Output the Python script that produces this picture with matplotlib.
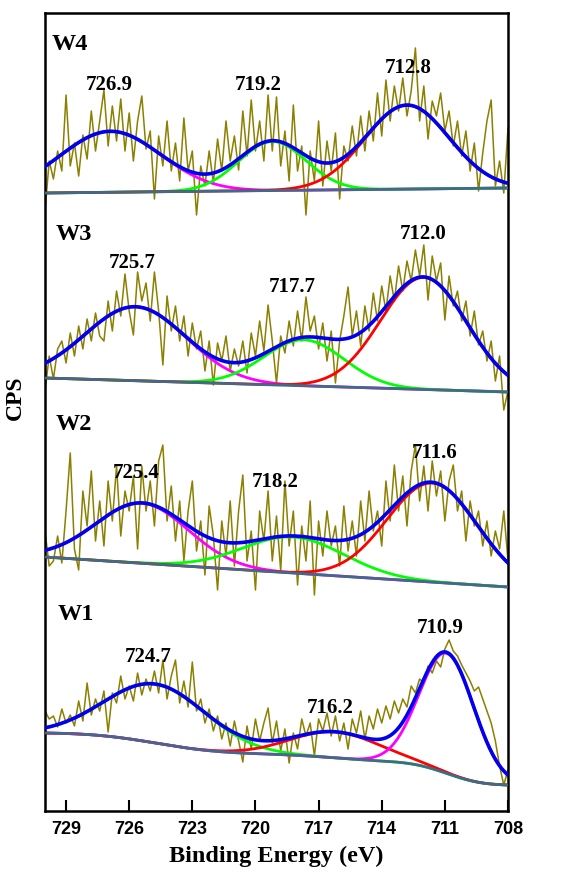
import numpy as np
import matplotlib.pyplot as plt

# raw scans, 730 -> 708 eV in 0.2 eV steps (counts offset per sample)
energy = np.linspace(730, 708, 111)

w4_raw = [600, 650, 632, 660, 640, 716, 645, 668, 635, 676,
          652, 700, 660, 690, 721, 665, 705, 670, 712, 660,
          698, 650, 690, 715, 662, 680, 612, 675, 645, 690,
          640, 668, 630, 693, 640, 660, 596, 645, 625, 660,
          628, 672, 640, 690, 650, 675, 641, 700, 655, 711,
          660, 690, 650, 716, 660, 714, 645, 680, 630, 706,
          640, 665, 596, 660, 630, 690, 625, 670, 640, 678,
          612, 665, 650, 685, 655, 695, 660, 700, 670, 718,
          675, 731, 690, 725, 700, 733, 695, 720, 763, 690,
          725, 672, 710, 695, 718, 680, 700, 665, 690, 655,
          680, 640, 668, 620, 658, 690, 711, 625, 650, 618,
          683]
w3_raw = [420, 455, 432, 462, 470, 448, 478, 455, 485, 462,
          492, 470, 498, 475, 470, 510, 480, 520, 495, 537,
          500, 476, 539, 510, 528, 490, 539, 500, 446, 515,
          480, 505, 470, 495, 455, 488, 462, 480, 440, 470,
          426, 468, 450, 475, 440, 462, 445, 470, 438, 478,
          455, 490, 460, 506, 470, 428, 475, 458, 490, 465,
          500, 470, 514, 480, 495, 462, 488, 450, 480, 428,
          470, 495, 524, 475, 500, 465, 505, 480, 518, 490,
          525, 500, 535, 510, 545, 520, 550, 530, 561, 535,
          566, 511, 555, 530, 548, 491, 535, 505, 520, 490,
          510, 475, 500, 466, 480, 450, 470, 430, 455, 401,
          420]
w2_raw = [280, 245, 250, 275, 248, 300, 358, 262, 241, 320,
          285, 340, 270, 310, 265, 330, 290, 345, 275, 320,
          300, 335, 262, 345, 300, 330, 285, 350, 366, 290,
          325, 270, 310, 250, 300, 330, 260, 290, 236, 305,
          275, 221, 290, 255, 310, 245, 300, 336, 250, 280,
          221, 300, 270, 320, 250, 295, 240, 330, 265, 300,
          226, 285, 250, 310, 216, 290, 255, 300, 265, 285,
          245, 305, 260, 290, 255, 310, 270, 320, 280, 300,
          265, 330, 290, 346, 300, 335, 285, 340, 366, 310,
          345, 300, 350, 315, 340, 290, 330, 346, 300, 320,
          270, 310, 285, 300, 265, 290, 255, 280, 262, 300,
          250]
w1_raw = [100, 92, 95, 84, 102, 88, 96, 85, 110, 90,
          128, 96, 112, 100, 120, 79, 118, 108, 135, 112,
          125, 110, 138, 116, 132, 120, 140, 118, 151, 112,
          135, 151, 108, 130, 104, 149, 100, 112, 88, 102,
          80, 95, 72, 88, 65, 90, 70, 49, 85, 62,
          92, 70, 88, 103, 68, 90, 60, 82, 48, 78,
          62, 92, 75, 88, 55, 92, 80, 98, 75, 95,
          70, 88, 62, 92, 78, 100, 72, 95, 82, 102,
          88, 105, 92, 110, 98, 112, 104, 125, 118, 132,
          128, 145, 138, 150, 144, 162, 171, 160, 155, 146,
          138, 130, 120, 124, 112, 100, 88, 70, 45, 26,
          41]

# fitted components: (centre eV, height, sigma eV)
w4_peaks = [(726.9, 61, 2.4), (719.2, 49, 1.6), (712.8, 84, 2.0)]
w3_peaks = [(725.7, 74, 2.4), (717.7, 46, 1.9), (712.0, 112, 2.05)]
w2_peaks = [(725.4, 60, 2.2), (718.2, 36, 2.4), (711.6, 99, 2.14)]
w1_peaks = [(724.7, 59, 2.4), (716.2, 26, 2.1), (710.9, 120, 1.3)]

# background level at 730 eV and 708 eV, shirley or linear
w4_bg = (618, 623, False)
w3_bg = (433, 419, False)
w2_bg = (254, 224, False)
w1_bg = (78, 26, True)

names = ['W4', 'W3', 'W2', 'W1']
raws = [w4_raw, w3_raw, w2_raw, w1_raw]
peaks = [w4_peaks, w3_peaks, w2_peaks, w1_peaks]
bgs = [w4_bg, w3_bg, w2_bg, w1_bg]
comp_colors = [['#ff00ff', '#00ff00', '#ff0000'],
               ['#ff00ff', '#00ff00', '#ff0000'],
               ['#ff00ff', '#00ff00', '#ff0000'],
               ['#00ff00', '#ff0000', '#ff00ff']]

name_pos = [(729.7, 767), (729.5, 577), (729.5, 386), (729.4, 196)]
label_pos = [[(726.95, 726), (719.85, 726), (712.75, 743)],
             [(725.85, 548), (718.25, 524), (712.05, 577)],
             [(725.65, 338), (719.05, 329), (711.5, 358)],
             [(725.1, 154), (716.45, 103), (711.2, 183)]]

serif = 'Liberation Serif'
sans = 'Liberation Sans'


def gauss(e, c, h, s):
    return h * np.exp(-(e - c) ** 2 / (2 * s ** 2))


def background(e, pk, left, right, shirley):
    if not shirley:
        return right + (left - right) * (e - 708) / 22.0
    tot = sum(gauss(e, *p) for p in pk)
    cum = np.cumsum(tot[::-1])[::-1]
    cum = cum - cum[-1]
    return right + (left - right) * cum / cum[0]


fig = plt.figure(figsize=(5.84, 8.73), dpi=100)
ax = fig.add_axes([45 / 584, 62 / 873, 463 / 584, 798 / 873])

fine = np.linspace(730, 708, 800)
for i in range(4):
    ax.plot(energy, raws[i], color='#8b8000', lw=1.1, zorder=1)
    left, right, sh = bgs[i]
    bg = background(fine, peaks[i], left, right, sh)
    total = bg.copy()
    for p, col in zip(peaks[i], comp_colors[i]):
        g = gauss(fine, *p)
        total += g
        ax.plot(fine, bg + g, color=col, lw=2, zorder=2)
    ax.plot(fine, bg, color='#3f6a8a', lw=2, zorder=3)
    ax.plot(fine, total, color='#0000ee', lw=2.6, zorder=4)

    ax.text(name_pos[i][0], name_pos[i][1], names[i], fontsize=17.5,
            fontweight='bold', family=serif, ha='left', va='center')
    for (c, h, s), (lx, ly) in zip(peaks[i], label_pos[i]):
        ax.text(lx, ly, '%.1f' % c, fontsize=15, fontweight='bold',
                family=serif, ha='center', va='center', zorder=5)

ax.set_xlim(730, 708)
ax.set_ylim(0, 798)
ax.set_xticks([729, 726, 723, 720, 717, 714, 711, 708])
ax.set_yticks([])
ax.tick_params(axis='x', direction='in', length=8, width=1.5, pad=7)
for lab in ax.get_xticklabels():
    lab.set_fontfamily(sans)
    lab.set_fontweight('bold')
    lab.set_fontsize(13)
for sp in ax.spines.values():
    sp.set_linewidth(1.8)

ax.set_xlabel('Binding Energy (eV)', fontsize=17.5, fontweight='bold',
              family=serif, labelpad=6)
fig.text(15 / 584, 1 - 398 / 873, 'CPS', rotation=90, fontsize=17,
         fontweight='bold', family=serif, ha='center', va='center')

fig.savefig('out.png', dpi=100)
